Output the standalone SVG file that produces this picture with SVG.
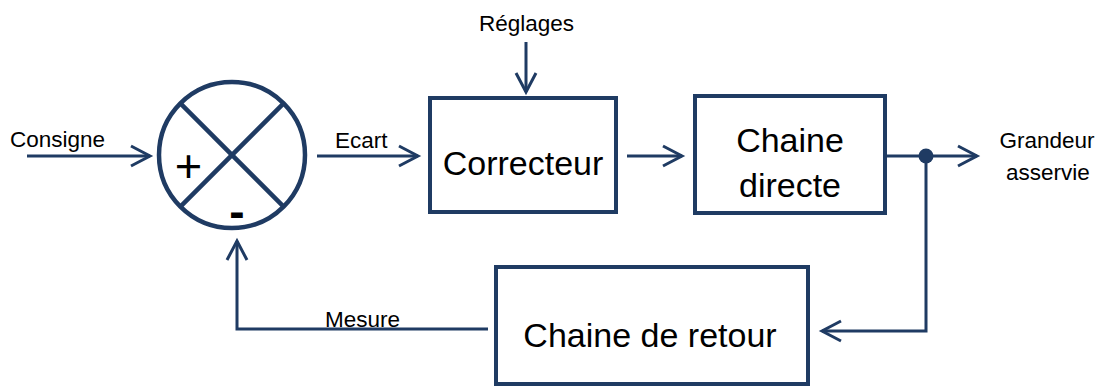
<svg xmlns="http://www.w3.org/2000/svg" width="1105" height="386" viewBox="0 0 1105 386">
  <style>
    .box { fill: #ffffff; stroke: #1f3b63; stroke-width: 4; }
    .wire { fill: none; stroke: #1f3b63; stroke-width: 3; }
    .lbl { font-family: "Liberation Sans", Arial, sans-serif; font-size: 22.5px; fill: #000000; }
    .big { font-family: "Liberation Sans", Arial, sans-serif; font-size: 34px; fill: #000000; text-anchor: middle; }
  </style>
  <defs>
    <marker id="arr" markerUnits="userSpaceOnUse" markerWidth="26" markerHeight="26" viewBox="-23 -13 26 26" refX="0" refY="0" orient="auto" overflow="visible">
      <path d="M-19,-10 L0,0 L-19,10" fill="none" stroke="#1f3b63" stroke-width="3"/>
    </marker>
  </defs>
  <rect width="1105" height="386" fill="#ffffff"/>

  <g id="connectors">
    <line class="wire" x1="27" y1="156" x2="150" y2="156" marker-end="url(#arr)"/>
    <line class="wire" x1="317" y1="156" x2="418" y2="156" marker-end="url(#arr)"/>
    <line class="wire" x1="526" y1="42" x2="526" y2="92" marker-end="url(#arr)"/>
    <line class="wire" x1="627" y1="156" x2="682" y2="156" marker-end="url(#arr)"/>
    <line class="wire" x1="887" y1="156" x2="977" y2="156" marker-end="url(#arr)"/>
    <polyline class="wire" points="926,156 926,331 822,331" marker-end="url(#arr)"/>
    <polyline class="wire" points="488,329 237,329 237,241" marker-end="url(#arr)"/>
    <circle id="junction" cx="926" cy="156" r="7.5" fill="#1f3b63"/>
  </g>

  <g id="sum">
    <circle cx="232" cy="155" r="73" fill="#ffffff" stroke="#1f3b63" stroke-width="4.5"/>
    <line x1="180.4" y1="103.4" x2="283.6" y2="206.6" stroke="#1f3b63" stroke-width="4.5"/>
    <line x1="283.6" y1="103.4" x2="180.4" y2="206.6" stroke="#1f3b63" stroke-width="4.5"/>
    <text x="188.5" y="182" font-family="Liberation Sans, Arial, sans-serif" font-size="47" text-anchor="middle">+</text>
    <text x="237" y="227" font-family="Liberation Sans, Arial, sans-serif" font-size="46" font-weight="bold" text-anchor="middle">-</text>
  </g>

  <g id="correcteur">
    <rect class="box" x="430" y="98" width="186" height="114"/>
    <text class="big" x="523" y="175">Correcteur</text>
  </g>

  <g id="chaine-directe">
    <rect class="box" x="695" y="96" width="190" height="117"/>
    <text class="big" x="790" y="152">Chaine</text>
    <text class="big" x="790" y="197">directe</text>
  </g>

  <g id="chaine-retour">
    <rect class="box" x="496" y="267" width="312" height="117"/>
    <text class="big" x="650" y="347">Chaine de retour</text>
  </g>

  <g id="labels">
    <text class="lbl" x="10" y="147">Consigne</text>
    <text class="lbl" x="479" y="31">Réglages</text>
    <text class="lbl" x="335" y="148">Ecart</text>
    <text class="lbl" x="325" y="327">Mesure</text>
    <text class="lbl" x="1047" y="148" text-anchor="middle">Grandeur</text>
    <text class="lbl" x="1048" y="180" text-anchor="middle">asservie</text>
  </g>
</svg>
